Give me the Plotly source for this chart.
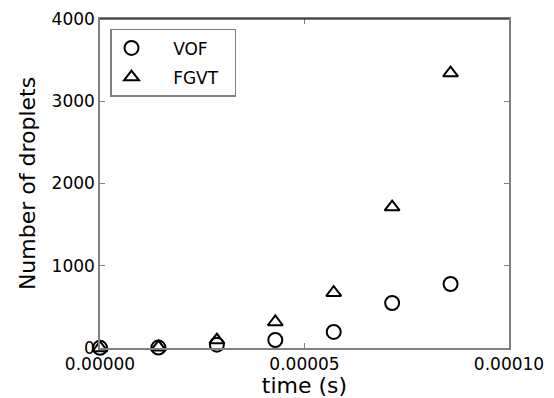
import plotly.graph_objects as go

time_s = [0.0, 1.4286e-5, 2.8571e-5, 4.2857e-5, 5.7143e-5, 7.1429e-5, 8.5714e-5]
vof = [2, 5, 40, 97, 195, 547, 778]
fgvt = [1, 10, 97, 316, 672, 1714, 3343]

x_ticks = [0.0, 0.00005, 0.0001]
x_ticklabels = ["0.00000", "0.00005", "0.00010"]
y_ticks = [0, 1000, 2000, 3000, 4000]

FONT = "DejaVu Sans"
NB = "\u00a0"

fig = go.Figure()
fig.add_trace(go.Scatter(
    x=time_s, y=vof, mode="markers", name=NB * 4 + "VOF" + NB * 2, legendgroup="a",
    marker=dict(symbol="circle-open", size=14, color="black", line=dict(width=2, color="black")),
    cliponaxis=False,
))
fig.add_trace(go.Scatter(
    x=time_s, y=fgvt, mode="markers", name=NB * 4 + "FGVT" + NB * 2, legendgroup="b",
    marker=dict(symbol="triangle-up-open", size=13, color="black", line=dict(width=2, color="black")),
    cliponaxis=False,
))

axis_common = dict(
    showgrid=False, zeroline=False, showline=True, linecolor="#808080", linewidth=1.5,
    mirror="allticks", ticks="inside", ticklen=5, tickcolor="#808080", tickwidth=1,
    tickfont=dict(family=FONT, size=17, color="black"), automargin=False,
)

fig.update_layout(
    width=554, height=398,
    margin=dict(l=100, r=45, t=19, b=50),
    paper_bgcolor="white", plot_bgcolor="white",
    font=dict(family=FONT, color="black"),
    showlegend=True,
    legend=dict(
        x=0.0245, y=0.97, xanchor="left", yanchor="top",
        bordercolor="#808080", borderwidth=1.5, bgcolor="white",
        font=dict(family=FONT, size=17, color="black"),
        tracegroupgap=4, itemwidth=30,
    ),
    xaxis=dict(
        range=[0, 0.0001], tickvals=x_ticks, ticktext=x_ticklabels,
        title=dict(text="time (s)", font=dict(family=FONT, size=22, color="black"), standoff=6),
        **axis_common,
    ),
    yaxis=dict(
        range=[0, 4000], tickvals=y_ticks,
        title=dict(text="Number of droplets", font=dict(family=FONT, size=22, color="black"), standoff=10),
        **axis_common,
    ),
)

fig.add_shape(type="line", xref="paper", yref="paper", x0=0, x1=1, y0=1, y1=1,
              line=dict(color="black", width=1))

fig.write_html(
    "out.html",
    config={"displayModeBar": False},
    post_script="document.body.style.margin='0';document.body.style.overflow='hidden';",
)
